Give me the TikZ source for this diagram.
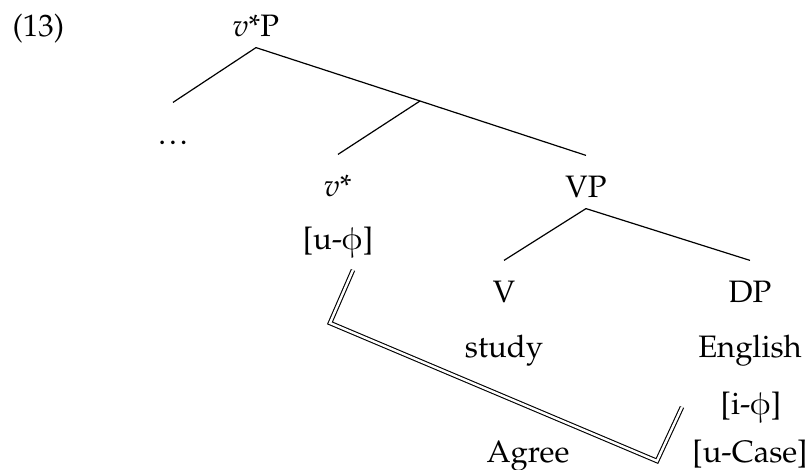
\documentclass[tikz,border=0pt]{standalone}
\usepackage[T1]{fontenc}
\usepackage{pxfonts}
\usetikzlibrary{positioning}
\providecommand\phiup{\phi}

\begin{document}
\begin{tikzpicture}[x=0.5pt,y=-0.5pt,line width=0.6pt,
  font=\fontsize{15.5}{18}\selectfont,
  cat/.style={anchor=base,inner sep=0pt,text height=21pt,text depth=5pt},
  feat/.style={anchor=base,inner sep=0pt},
  agree/.style={double,double distance=1.2pt,line width=0.55pt}]
\useasboundingbox (0,0) rectangle (811,470);
\node[feat,anchor=base west] (ex) at (12,37) {(13)};
\node[cat] (vsP) at (256,37) {$v$*P};
\node[cat] (dots) at (173,145) {.\kern1.5pt.\kern1.5pt.};
\coordinate (vbar) at (420,101);
\node[cat] (vs) at (338,197) {$v$*};
\node[feat] (uphi) at (338,250) {[u-$\phiup$]};
\node[cat] (VP) at (586,198) {VP};
\node[cat] (V) at (504,303) {V};
\node[feat] (study) at (504,358) {study};
\node[cat] (DP) at (750,303) {DP};
\node[feat] (engl) at (750,358) {English};
\node[feat] (iphi) at (751,415) {[i-$\phiup$]};
\node[feat] (ucase) at (750,463) {[u-Case]};
\node[feat] (agr) at (528,463) {Agree};
\coordinate (a1) at (353,270);
\coordinate (a2) at (330,323);
\coordinate (a3) at (657,461);
\coordinate (a4) at (682,407);
\draw (vsP.south) -- (dots.north);
\draw (vsP.south) -- (vbar);
\draw (vbar) -- (vs.north);
\draw (vbar) -- (VP.north);
\draw (VP.south) -- (V.north);
\draw (VP.south) -- (DP.north);
\draw[agree] (a1) -- (a2) -- (a3) -- (a4);
\end{tikzpicture}
\end{document}
